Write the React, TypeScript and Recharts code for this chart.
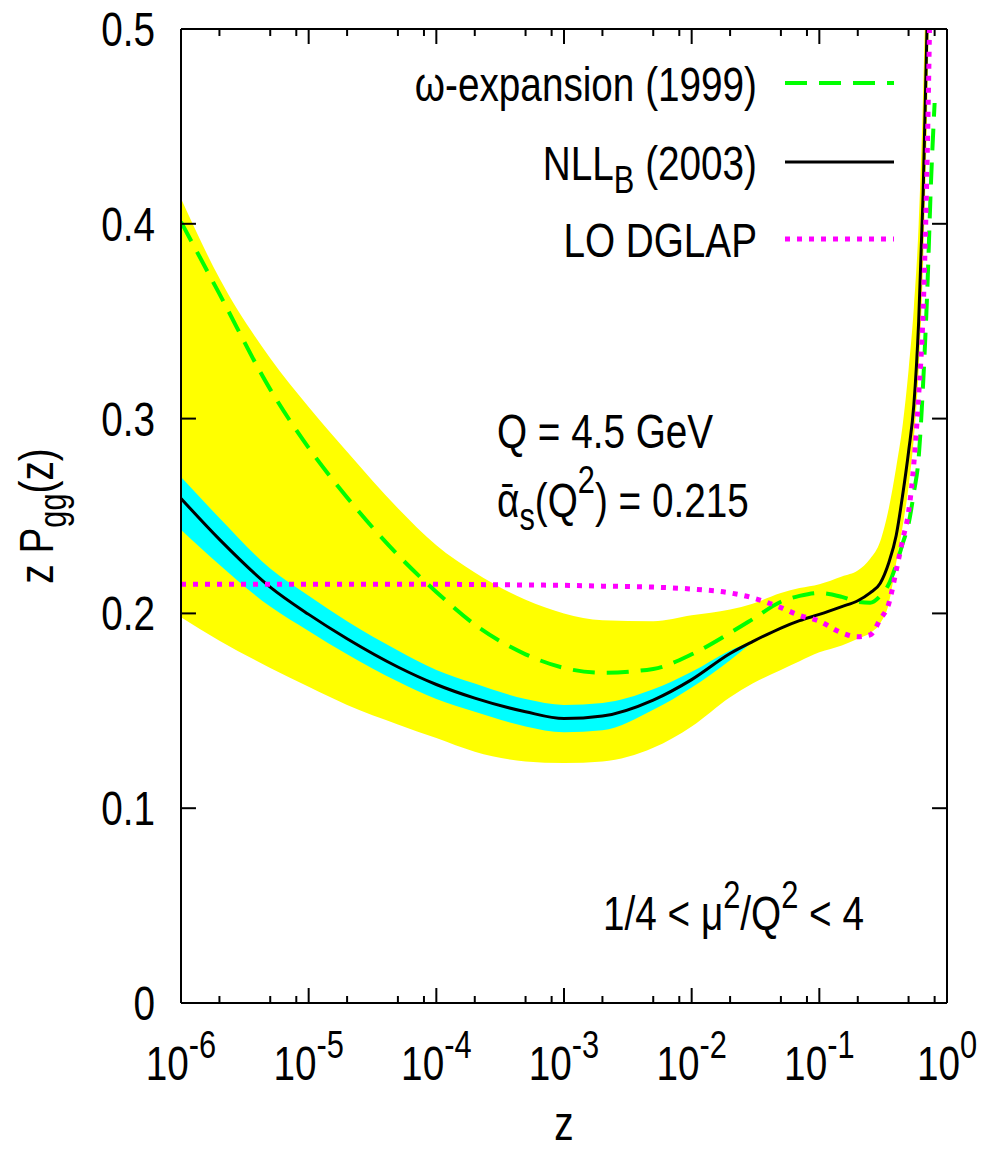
import React from 'react';
import { ComposedChart, Line, Area, XAxis, YAxis, ReferenceLine } from 'recharts';

// z grid (log spaced, denser near z -> 1 where the curves shoot up)
const Z = [
  1e-6, 2e-6, 5e-6, 1e-5, 2e-5, 5e-5, 1e-4, 2e-4, 5e-4, 1e-3, 2e-3, 5e-3, 1e-2, 2e-2, 3e-2, 5e-2, 7e-2,
  0.1, 0.15, 0.2, 0.25, 0.3, 0.35, 0.4, 0.45, 0.5, 0.55, 0.6, 0.65, 0.7, 0.75, 0.8,
];

// NLL_B (2003), black solid
const NLL_B = [
  0.259, 0.238, 0.2135, 0.1995, 0.187, 0.1725, 0.1635, 0.1565, 0.1495, 0.146, 0.1473, 0.1555, 0.166, 0.1794, 0.1855, 0.1925, 0.1963,
  0.1995, 0.2035, 0.2065, 0.2105, 0.2155, 0.226, 0.24, 0.261, 0.283, 0.307, 0.35, 0.415, 0.505, null, null,
];

// omega-expansion (1999), green dashed
const OMEGA = [
  0.401, 0.364, 0.315, 0.285, 0.2595, 0.23, 0.211, 0.1943, 0.179, 0.172, 0.1695, 0.1715, 0.179, 0.19, 0.197, 0.206, 0.209,
  0.2105, 0.2085, 0.206, 0.2055, 0.209, 0.215, 0.225, 0.236, 0.246, 0.262, 0.28, 0.318, 0.365, 0.422, 0.462,
];

// LO DGLAP, magenta dotted
const LO_DGLAP = [
  0.215, 0.215, 0.215, 0.215, 0.215, 0.215, 0.215, 0.2148, 0.2146, 0.2144, 0.214, 0.2135, 0.2125, 0.2105, 0.208, 0.203, 0.199,
  0.196, 0.19, 0.188, 0.189, 0.197, 0.205, 0.222, 0.238, 0.252, 0.277, 0.312, 0.355, 0.435, 0.55, null,
];

// yellow band: 1/4 < mu^2/Q^2 < 4
const BAND_LO = [
  0.198, 0.186, 0.172, 0.1623, 0.153, 0.143, 0.136, 0.129, 0.124, 0.1232, 0.124, 0.131, 0.142, 0.157, 0.164, 0.171, 0.1755,
  0.18, 0.1835, 0.187, 0.19, 0.195, 0.205, 0.226, 0.245, 0.265, 0.29, 0.325, 0.38, 0.46, 0.58, null,
];
const BAND_HI = [
  0.413, 0.372, 0.331, 0.306, 0.283, 0.254, 0.235, 0.221, 0.207, 0.2, 0.1965, 0.196, 0.199, 0.202, 0.205, 0.2105, 0.213,
  0.215, 0.219, 0.222, 0.228, 0.237, 0.254, 0.275, 0.297, 0.325, 0.357, 0.4, 0.467, 0.56, 0.68, null,
];

// cyan band around NLL_B
const NLL_LO = [
  0.243, 0.225, 0.2035, 0.191, 0.179, 0.165, 0.156, 0.1495, 0.142, 0.139, 0.14, 0.1505, 0.162, 0.176, 0.1855, null, null,
  null, null, null, null, null, null, null, null, null, null, null, null, null, null, null,
];
const NLL_HI = [
  0.27, 0.249, 0.223, 0.209, 0.196, 0.181, 0.171, 0.164, 0.156, 0.153, 0.154, 0.161, 0.17, 0.181, 0.1855, null, null,
  null, null, null, null, null, null, null, null, null, null, null, null, null, null, null,
];

const X_MAJOR = [1e-6, 1e-5, 1e-4, 1e-3, 1e-2, 1e-1, 1];
const X_MINOR = [
  2e-6, 5e-6, 8e-6, 2e-5, 5e-5, 8e-5, 2e-4, 5e-4, 8e-4, 2e-3, 5e-3, 8e-3, 2e-2, 5e-2, 8e-2, 0.2, 0.5, 0.8,
];
const Y_TICKS = [0, 0.1, 0.2, 0.3, 0.4, 0.5];

const chartData = Z.map((z, i) => ({
  z,
  nll: NLL_B[i],
  omega: OMEGA[i],
  dglap: LO_DGLAP[i],
  scaleBand: BAND_LO[i] != null && BAND_HI[i] != null ? [BAND_LO[i], BAND_HI[i]] : null,
  nllBand: NLL_LO[i] != null && NLL_HI[i] != null ? [NLL_LO[i], NLL_HI[i]] : null,
}));

const FONT = '"Liberation Sans", Arial, sans-serif';
const SQ = 0.79; // the original lettering is horizontally condensed
const FS = 49;
const FS_SMALL = 39;
const GREEN = '#00ff00';
const MAGENTA = '#ff00ff';

// tick lengths in data units
const MAJ_Y = 0.0077;
const MIN_Y = 0.0036;
const MAJ_X = 1.31;

const XTick = ({ x, y, payload }: any) => {
  const exp = Math.round(Math.log10(payload.value));
  return (
    <g transform={`translate(${x},${y + 77}) scale(${SQ},1)`}>
      <text textAnchor="middle" fontFamily={FONT} fontSize={FS} fill="#000">
        10<tspan dy={-22} fontSize={FS_SMALL}>{exp}</tspan>
      </text>
    </g>
  );
};

const YTick = ({ x, y, payload }: any) => (
  <g transform={`translate(${x - 26},${y + 17}) scale(${SQ},1)`}>
    <text textAnchor="end" fontFamily={FONT} fontSize={FS} fill="#000">
      {payload.value}
    </text>
  </g>
);

const T = ({ x, y, anchor = 'start', rotate = 0, children }: any) => (
  <g transform={`translate(${x},${y}) rotate(${rotate}) scale(${SQ},1)`}>
    <text textAnchor={anchor} fontFamily={FONT} fontSize={FS} fill="#000">
      {children}
    </text>
  </g>
);

const tickLine = { stroke: '#000', strokeWidth: 2, ifOverflow: 'visible' as const };

export default function App() {
  return (
    <div style={{ position: 'relative', width: 990, height: 1152 }}>
      <style>{'body { margin: 0; }'}</style>
      <ComposedChart
        width={990}
        height={1152}
        data={chartData}
        margin={{ top: 29, right: 43, bottom: 0, left: 0 }}
      >
        <XAxis
          dataKey="z"
          type="number"
          scale="log"
          domain={[1e-6, 1]}
          ticks={X_MAJOR}
          allowDataOverflow
          height={149}
          tickLine={false}
          tickSize={0}
          tickMargin={0}
          tick={<XTick />}
          axisLine={{ stroke: '#000', strokeWidth: 2 }}
        />
        <YAxis
          type="number"
          domain={[0, 0.5]}
          ticks={Y_TICKS}
          allowDataOverflow
          width={181}
          tickLine={false}
          tickSize={0}
          tickMargin={0}
          tick={<YTick />}
          axisLine={{ stroke: '#000', strokeWidth: 2 }}
        />
        <Area
          type="monotone"
          dataKey="scaleBand"
          stroke="none"
          fill="#ffff00"
          fillOpacity={1}
          isAnimationActive={false}
        />
        <Area
          type="monotone"
          dataKey="nllBand"
          stroke="none"
          fill="#00ffff"
          fillOpacity={1}
          isAnimationActive={false}
        />
        <Line
          type="monotone"
          dataKey="omega"
          stroke={GREEN}
          strokeWidth={4}
          strokeDasharray="22 12"
          dot={false}
          isAnimationActive={false}
        />
        <Line
          type="monotone"
          dataKey="nll"
          stroke="#000"
          strokeWidth={3}
          dot={false}
          isAnimationActive={false}
        />
        <Line
          type="monotone"
          dataKey="dglap"
          stroke={MAGENTA}
          strokeWidth={5}
          strokeDasharray="5 7"
          dot={false}
          isAnimationActive={false}
        />

        {/* frame: top and right */}
        <ReferenceLine y={0.5} {...tickLine} />
        <ReferenceLine x={1} {...tickLine} />

        {/* inward ticks, bottom and top */}
        {X_MAJOR.map((v) => (
          <ReferenceLine key={'xb' + v} segment={[{ x: v, y: 0 }, { x: v, y: MAJ_Y }]} {...tickLine} />
        ))}
        {X_MAJOR.map((v) => (
          <ReferenceLine key={'xt' + v} segment={[{ x: v, y: 0.5 }, { x: v, y: 0.5 - MAJ_Y }]} {...tickLine} />
        ))}
        {X_MINOR.map((v) => (
          <ReferenceLine key={'mb' + v} segment={[{ x: v, y: 0 }, { x: v, y: MIN_Y }]} {...tickLine} />
        ))}
        {X_MINOR.map((v) => (
          <ReferenceLine key={'mt' + v} segment={[{ x: v, y: 0.5 }, { x: v, y: 0.5 - MIN_Y }]} {...tickLine} />
        ))}
        {/* inward ticks, left and right */}
        {Y_TICKS.map((v) => (
          <ReferenceLine key={'yl' + v} segment={[{ x: 1e-6, y: v }, { x: 1e-6 * MAJ_X, y: v }]} {...tickLine} />
        ))}
        {Y_TICKS.map((v) => (
          <ReferenceLine key={'yr' + v} segment={[{ x: 1, y: v }, { x: 1 / MAJ_X, y: v }]} {...tickLine} />
        ))}
      </ComposedChart>

      <svg
        width={990}
        height={1152}
        style={{ position: 'absolute', left: 0, top: 0, pointerEvents: 'none' }}
      >
        {/* legend */}
        <T x={757} y={101} anchor="end">ω-expansion (1999)</T>
        <line x1={785} y1={83} x2={894} y2={83} stroke={GREEN} strokeWidth={4} strokeDasharray="22 12" />
        <T x={757} y={180} anchor="end">
          NLL<tspan dy={13} fontSize={FS_SMALL}>B</tspan>
          <tspan dy={-13}> (2003)</tspan>
        </T>
        <line x1={785} y1={162} x2={894} y2={162} stroke="#000" strokeWidth={3} />
        <T x={757} y={257} anchor="end">LO DGLAP</T>
        <line x1={785} y1={239} x2={894} y2={239} stroke={MAGENTA} strokeWidth={5} strokeDasharray="5 7" />

        {/* annotations */}
        <T x={497} y={448}>Q = 4.5 GeV</T>
        <T x={497} y={517}>
          ᾱ<tspan dy={13} fontSize={FS_SMALL}>s</tspan>
          <tspan dy={-13}>(Q</tspan>
          <tspan dy={-24} fontSize={FS_SMALL}>2</tspan>
          <tspan dy={24}>) = 0.215</tspan>
        </T>
        <T x={603} y={930}>
          1/4 &lt; μ<tspan dy={-22} fontSize={FS_SMALL}>2</tspan>
          <tspan dy={22}>/Q</tspan>
          <tspan dy={-22} fontSize={FS_SMALL}>2</tspan>
          <tspan dy={22}> &lt; 4</tspan>
        </T>

        {/* axis titles */}
        <T x={564} y={1140} anchor="middle">z</T>
        <T x={53} y={516} anchor="middle" rotate={-90}>
          z P<tspan dy={13} fontSize={FS_SMALL}>gg</tspan>
          <tspan dy={-13}>(z)</tspan>
        </T>
      </svg>
    </div>
  );
}
